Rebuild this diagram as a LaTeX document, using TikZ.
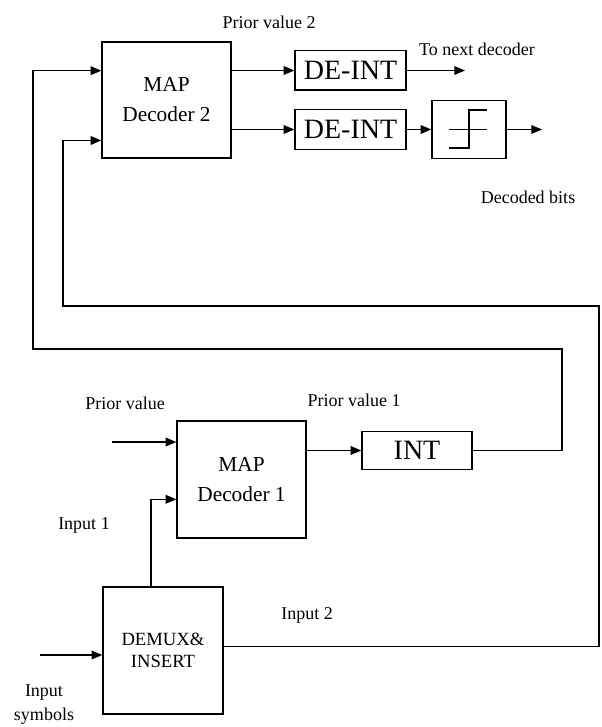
\documentclass[tikz,border=0pt]{standalone}
\usepackage{fontspec}
\setmainfont{Liberation Serif}
\usetikzlibrary{arrows.meta,calc,positioning}
\tikzset{
  blk/.style={draw,line width=1pt,align=center,inner sep=0pt,font=\fontsize{16}{22.5}\selectfont},
  intbox/.style={draw,line width=1pt,inner sep=0pt,font=\fontsize{21}{24}\selectfont},
  wire/.style={line width=1pt},
  sig/.style={wire,-{Triangle[length=8pt,width=6.5pt]}},
  lbl/.style={font=\fontsize{13.5}{18}\selectfont,inner sep=0pt,align=center},
}
\begin{document}
\begin{tikzpicture}[x=0.75pt,y=-0.75pt]
  \useasboundingbox (0,0) rectangle (601,727);
  % blocks
  \node[blk,minimum width=96.75pt,minimum height=87pt] (map2) at (166.5,100) {MAP\\Decoder 2};
  \node[intbox,minimum width=83.25pt,minimum height=29.5pt] (deint1) at (350.5,70.5) {DE-INT};
  \node[intbox,minimum width=83.25pt,minimum height=30pt] (deint2) at (350.5,129.5) {DE-INT};
  \node[draw,line width=1pt,minimum width=55.5pt,minimum height=43.5pt] (lim) at (469,129.5) {};
  \node[blk,minimum width=96.75pt,minimum height=87.75pt] (map1) at (241.5,479.5) {MAP\\Decoder 1};
  \node[intbox,minimum width=82.5pt,minimum height=28.5pt] (int) at (417,450.5) {INT};
  \node[blk,font=\fontsize{14}{16.5}\selectfont,minimum width=90pt,minimum height=95.25pt] (demux) at (163,650.5) {DEMUX\&\\INSERT};
  % hard limiter symbol
  \draw[wire] ($(lim.center)+(-20,0)$) -- ++(38,0);
  \draw[wire] ($(lim.center)+(-20,18.5)$) -- ++(20,0) -- ++(0,-38) -- ++(18,0);
  % turning points and free ends
  \coordinate (fbA1) at (562,349);
  \coordinate (fbA2) at (33,349);
  \coordinate (fbB1) at (599,306);
  \coordinate (fbB2) at (63,306);
  \coordinate (m2in1) at ($(map2.north west)!0.25!(map2.south west)$);
  \coordinate (m2in2) at ($(map2.north west)!0.845!(map2.south west)$);
  \coordinate (m1in2) at ($(map1.north west)!0.667!(map1.south west)$);
  \coordinate (dmout) at ($(demux.north east)!0.47!(demux.south east)$);
  \coordinate (nextout) at (465,70.5);
  \coordinate (bitsout) at (542,129.5);
  \coordinate (pvin) at (112,442);
  \coordinate (symin) at (40,655);
  % connectors
  \draw[sig] (map2.east |- deint1) -- (deint1.west);
  \draw[sig] (map2.east |- deint2) -- (deint2.west);
  \draw[sig] (deint1.east) -- (nextout);
  \draw[sig] (deint2.east) -- (lim.west);
  \draw[sig] (lim.east) -- (bitsout);
  \draw[sig] (int.east) -| (fbA1) -- (fbA2) |- (m2in1);
  \draw[sig] (dmout) -| (fbB1) -- (fbB2) |- (m2in2);
  \draw[sig] (pvin) -- (map1.west |- pvin);
  \draw[sig] ([xshift=-9pt]demux.north) |- (m1in2);
  \draw[sig] (map1.east |- int) -- (int.west);
  \draw[sig] (symin) -- (demux.west |- symin);
  % labels
  \node[lbl] (lpv2) at (269,22) {Prior value 2};
  \node[lbl] (lnext) at (477,49) {To next decoder};
  \node[lbl] (lbits) at (528,197) {Decoded bits};
  \node[lbl] (lpv) at (125,403) {Prior value};
  \node[lbl] (lpv1) at (354,400) {Prior value 1};
  \node[lbl] (lin1) at (84,525) {Input 1};
  \node[lbl] (lin2) at (307,615) {Input 2};
  \node[lbl] (lsym) at (44,705) {Input\\symbols};
\end{tikzpicture}
\end{document}
